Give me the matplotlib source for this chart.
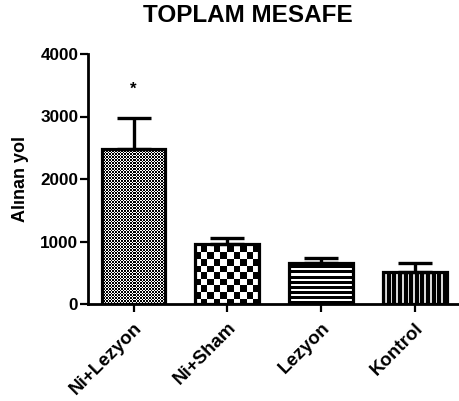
import numpy as np
import matplotlib
matplotlib.use("Agg")
import matplotlib.pyplot as plt

categories = ["Ni+Lezyon", "Ni+Sham", "Lezyon", "Kontrol"]
means = [2475, 955, 661, 517]
sems = [506, 106, 80, 134]
yticks = [0, 1000, 2000, 3000, 4000]
title = "TOPLAM MESAFE"
ylabel = "Alınan yol"
star_text = "*"

plt.rcParams['font.family'] = ['Liberation Sans', 'DejaVu Sans']
plt.rcParams['font.weight'] = 'bold'

W, H, DPI = 460, 401, 100
fig = plt.figure(figsize=(W / DPI, H / DPI), dpi=DPI)
ax_l, ax_b, ax_r, ax_t = 88, 304, 460, 54
ax = fig.add_axes([ax_l / W, 1 - ax_b / H, (ax_r - ax_l) / W, (ax_b - ax_t) / H])

x = np.arange(len(categories))
ax.set_xlim(-0.485, 3.48)
ax.set_ylim(0, 4000)

bars = ax.bar(x, means, width=0.68, facecolor='white', edgecolor='none', zorder=2)

# textures in pixel units
apw, aph = ax_r - ax_l, ax_b - ax_t
yy, xx = np.mgrid[0:aph, 0:apw]
tex = []
tex.append((((xx * 2) // 3 + (yy * 2) // 3) % 2).astype(float))          # fine dots
tex.append((((xx / 6.6).astype(int) + (yy / 6.6).astype(int)) % 2).astype(float))  # checker
tex.append(np.where((yy % 5) < 1.2, 1.0, 0.0))                 # horizontal white lines
tex.append(np.where((xx % 5.6) < 1.5, 0.85, 0.0))              # vertical white lines
for b, t in zip(bars, tex):
    im = ax.imshow(t, cmap='gray', vmin=0, vmax=1, extent=(-0.485, 3.48, 0, 4000),
                   origin='upper', aspect='auto', interpolation='nearest', zorder=2.5)
    im.set_clip_path(b)

ax.bar(x, means, width=0.68, facecolor='none', edgecolor='black', linewidth=2.3, zorder=3)
ax.errorbar(x, means, yerr=[np.zeros(len(sems)), sems], fmt='none', ecolor='black',
            elinewidth=2.4, capsize=12.2, capthick=2.4, zorder=2.8)

ax.text(0, 3360, star_text, ha='center', va='baseline', fontsize=12, fontweight='bold')

for s in ['top', 'right']:
    ax.spines[s].set_visible(False)
for s in ['left', 'bottom']:
    ax.spines[s].set_linewidth(2.0)
ax.set_xticks(x)
ax.set_xticklabels(categories, rotation=45, ha='right', rotation_mode='anchor',
                   fontsize=13.5, fontweight='bold')
ax.set_yticks(yticks)
ax.set_yticklabels([str(v) for v in yticks], fontsize=12.3, fontweight='bold')
ax.tick_params(axis='both', direction='out', length=6, width=1.6, pad=1)
ax.tick_params(axis='x', pad=5)
ax.set_ylabel(ylabel, fontsize=13, fontweight='bold', labelpad=8)

fig.text(248 / W, 1 - 16 / H, title, ha='center', va='center', fontsize=17.5, fontweight='bold')

fig.savefig("out.png", dpi=DPI)
